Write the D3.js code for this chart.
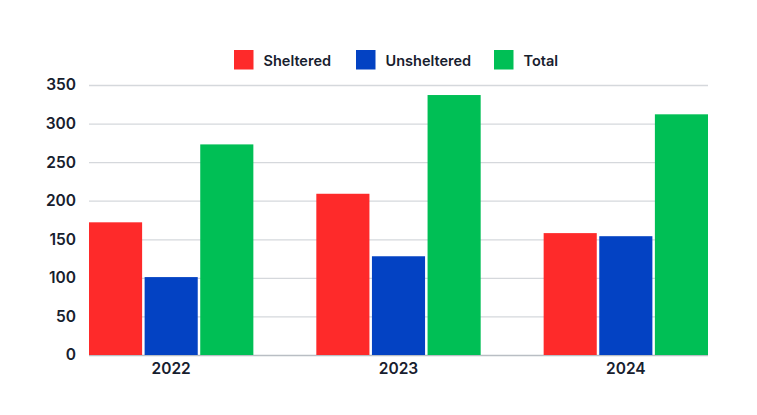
<!DOCTYPE html>
<html>
<head>
<meta charset="utf-8">
<script src="https://cdn.jsdelivr.net/npm/d3@7"></script>
<style>
  body { margin: 0; background: #fff; }
  text { font-family: Inter, "Noto Sans", sans-serif; fill: #17202e; }
</style>
</head>
<body>
<div id="chart"></div>
<script>
// chart data
var years = ["2022", "2023", "2024"];
var seriesNames = ["Sheltered", "Unsheltered", "Total"];
var sheltered = [172, 209, 158];
var unsheltered = [101, 128, 154];
var total = [273, 337, 312];
var yTicks = [0, 50, 100, 150, 200, 250, 300, 350];

var colors = ["#fe2a2a", "#0342c3", "#00bf55"];

var svgWidth = 757;
var svgHeight = 415;
var margin = { top: 85, right: 49, bottom: 60, left: 89 };
var width = svgWidth - margin.left - margin.right;
var height = svgHeight - margin.top - margin.bottom;

var svg = d3.select("#chart")
  .append("svg")
  .attr("width", svgWidth)
  .attr("height", svgHeight);

var chartGroup = svg.append("g")
  .attr("transform", `translate(${margin.left}, ${margin.top})`);

// build rows for each year
var rows = years.map(function(y, i) {
  return { year: y, values: [sheltered[i], unsheltered[i], total[i]] };
});

var x0 = d3.scaleBand()
  .domain(years)
  .range([0, width])
  .paddingInner(0.277)
  .paddingOuter(0);

var x1 = d3.scaleBand()
  .domain(seriesNames)
  .range([0, x0.bandwidth()])
  .paddingInner(0.045);

var yLinearScale = d3.scaleLinear()
  .domain([0, 350])
  .range([height, 0]);

// gridlines
chartGroup.append("g")
  .selectAll("line")
  .data(yTicks)
  .enter()
  .append("line")
  .attr("x1", 0)
  .attr("x2", width)
  .attr("y1", d => yLinearScale(d) + 0.5)
  .attr("y2", d => yLinearScale(d) + 0.5)
  .attr("stroke", d => d === 0 ? "#b9bec4" : "#d5d8dc")
  .attr("stroke-width", 1.3);

// left axis labels
var leftAxis = d3.axisLeft(yLinearScale)
  .tickValues(yTicks)
  .tickSize(0)
  .tickPadding(13);

chartGroup.append("g")
  .call(leftAxis)
  .call(g => g.select(".domain").remove())
  .selectAll("text")
  .style("font-size", "15.5px")
  .style("font-weight", 600)
  .style("fill", "#17202e");

// bottom axis labels
var bottomAxis = d3.axisBottom(x0)
  .tickSize(0)
  .tickPadding(8);

chartGroup.append("g")
  .attr("transform", `translate(0, ${height})`)
  .call(bottomAxis)
  .call(g => g.select(".domain").remove())
  .selectAll("text")
  .style("font-size", "15.5px")
  .style("font-weight", 600)
  .style("fill", "#17202e");

// bars
var groups = chartGroup.selectAll(".yearGroup")
  .data(rows)
  .enter()
  .append("g")
  .attr("class", "yearGroup")
  .attr("transform", d => `translate(${x0(d.year)}, 0)`);

groups.selectAll("rect")
  .data(d => d.values.map((v, i) => ({ name: seriesNames[i], value: v, idx: i })))
  .enter()
  .append("rect")
  .attr("x", d => x1(d.name))
  .attr("y", d => yLinearScale(d.value))
  .attr("width", x1.bandwidth())
  .attr("height", d => height - yLinearScale(d.value))
  .attr("fill", d => colors[d.idx]);

// legend
var legendX = [234, 356, 494];
var legend = svg.append("g");

var items = legend.selectAll("g")
  .data(seriesNames)
  .enter()
  .append("g")
  .attr("transform", (d, i) => `translate(${legendX[i]}, 50)`);

items.append("rect")
  .attr("width", 19.5)
  .attr("height", 19.5)
  .attr("fill", (d, i) => colors[i]);

items.append("text")
  .attr("x", 29.5)
  .attr("y", 15.5)
  .style("font-size", "14.5px")
  .style("font-weight", 600)
  .text(d => d);
</script>
</body>
</html>
